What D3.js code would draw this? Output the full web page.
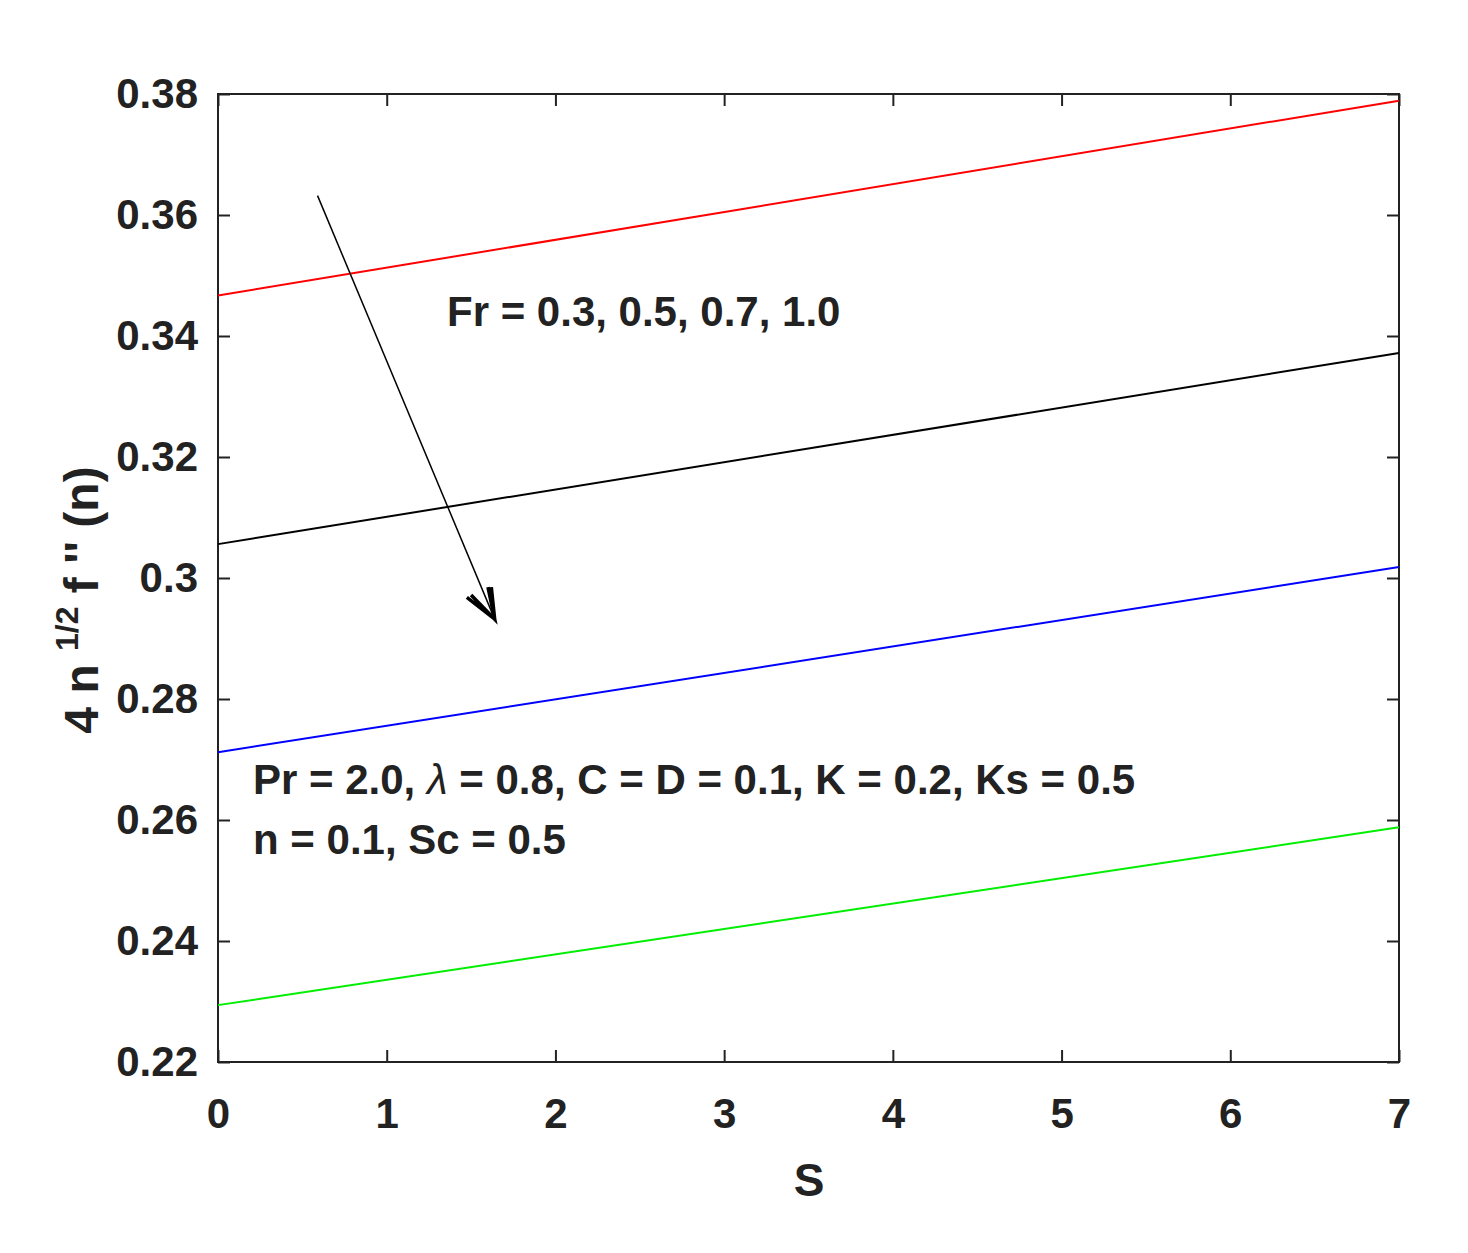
<!DOCTYPE html>
<html><head><meta charset="utf-8">
<script src="https://cdn.jsdelivr.net/npm/d3@7"></script>
<style>body{margin:0;background:#fff}text{font-family:Arial,"Liberation Sans",sans-serif;font-weight:bold}</style>
</head><body><svg id="c" width="1468" height="1253"></svg>
<script>
const sValues=[0,7];
const seriesNames=["Fr = 0.3","Fr = 0.5","Fr = 0.7","Fr = 1.0"];
const seriesColors=["#ff0000","#000000","#0000ff","#00ee00"];
const series03=[0.3467,0.3789];
const series05=[0.3056,0.3372];
const series07=[0.2712,0.3018];
const series10=[0.2294,0.2588];
const xTicks=[0,1,2,3,4,5,6,7];
const yTicks=[0.22,0.24,0.26,0.28,0.3,0.32,0.34,0.36,0.38];
const allSeries=[series03,series05,series07,series10];

const svg=d3.select("#c");
const L=218,R=1399,T=94,B=1062;
const x=d3.scaleLinear().domain([0,7]).range([L,R]);
const y=d3.scaleLinear().domain([0.22,0.38]).range([B,T]);
const fmt=d=>d===0.3?"0.3":d3.format(".2f")(d);
const tick=12;
svg.append("g").attr("transform",`translate(0,${B})`).call(d3.axisBottom(x).tickValues(xTicks).tickSizeInner(-tick).tickSizeOuter(0).tickPadding(36).tickFormat(d3.format("d")));
svg.append("g").attr("transform",`translate(0,${T})`).call(d3.axisTop(x).tickValues(xTicks).tickSizeInner(-tick).tickSizeOuter(0).tickFormat(""));
svg.append("g").attr("transform",`translate(${L},0)`).call(d3.axisLeft(y).tickValues(yTicks).tickSizeInner(-tick).tickSizeOuter(0).tickPadding(20).tickFormat(fmt));
svg.append("g").attr("transform",`translate(${R},0)`).call(d3.axisRight(y).tickValues(yTicks).tickSizeInner(-tick).tickSizeOuter(0).tickFormat(""));
svg.selectAll(".domain").remove();
svg.selectAll(".tick line").attr("stroke","#222").attr("stroke-width",2);
svg.selectAll(".tick text").attr("font-size",42).attr("fill","#222");
svg.append("rect").attr("x",L).attr("y",T).attr("width",R-L).attr("height",B-T).attr("fill","none").attr("stroke","#222").attr("stroke-width",2);
const line=d3.line().x((d,i)=>x(sValues[i])).y(d=>y(d));
allSeries.forEach((s,i)=>svg.append("path").datum(s).attr("d",line).attr("fill","none").attr("stroke",seriesColors[i]).attr("stroke-width",2));
// arrow
svg.append("line").attr("x1",x(0.59)).attr("y1",y(0.3632)).attr("x2",x(1.64)).attr("y2",y(0.2932)).attr("stroke","#000").attr("stroke-width",1.5);
svg.append("path").attr("d",`M${x(1.475)},${y(0.2968)} L${x(1.64)},${y(0.2932)} L${x(1.62)},${y(0.2985)} M${x(1.5)},${y(0.2972)} L${x(1.64)},${y(0.2932)} L${x(1.6)},${y(0.2985)}`).attr("stroke","#000").attr("stroke-width",3.5).attr("fill","none");
const t=(s,px,py)=>svg.append("text").attr("x",px).attr("y",py).attr("font-size",42).attr("fill","#222").text(s);
t("Fr = 0.3, 0.5, 0.7, 1.0",447,326);
const p=svg.append("text").attr("x",253).attr("y",794).attr("font-size",42).attr("fill","#222");
p.append("tspan").text("Pr = 2.0,  ");
p.append("tspan").attr("font-weight","normal").attr("font-style","italic").text("λ");
p.append("tspan").text(" = 0.8, C = D = 0.1, K = 0.2, Ks = 0.5");
t("n = 0.1, Sc = 0.5",253,854);
svg.append("text").attr("x",809).attr("y",1196).attr("text-anchor","middle").attr("font-size",46).attr("fill","#222").text("S");
const yl=svg.append("text").attr("transform","translate(98,600) rotate(-90)").attr("text-anchor","middle").attr("font-size",48).attr("fill","#222");
yl.append("tspan").text("4 n ");
yl.append("tspan").attr("font-size",32).attr("dy",-20).text("1/2");
yl.append("tspan").attr("dy",20).text(" f '' (n)");
</script></body></html>
